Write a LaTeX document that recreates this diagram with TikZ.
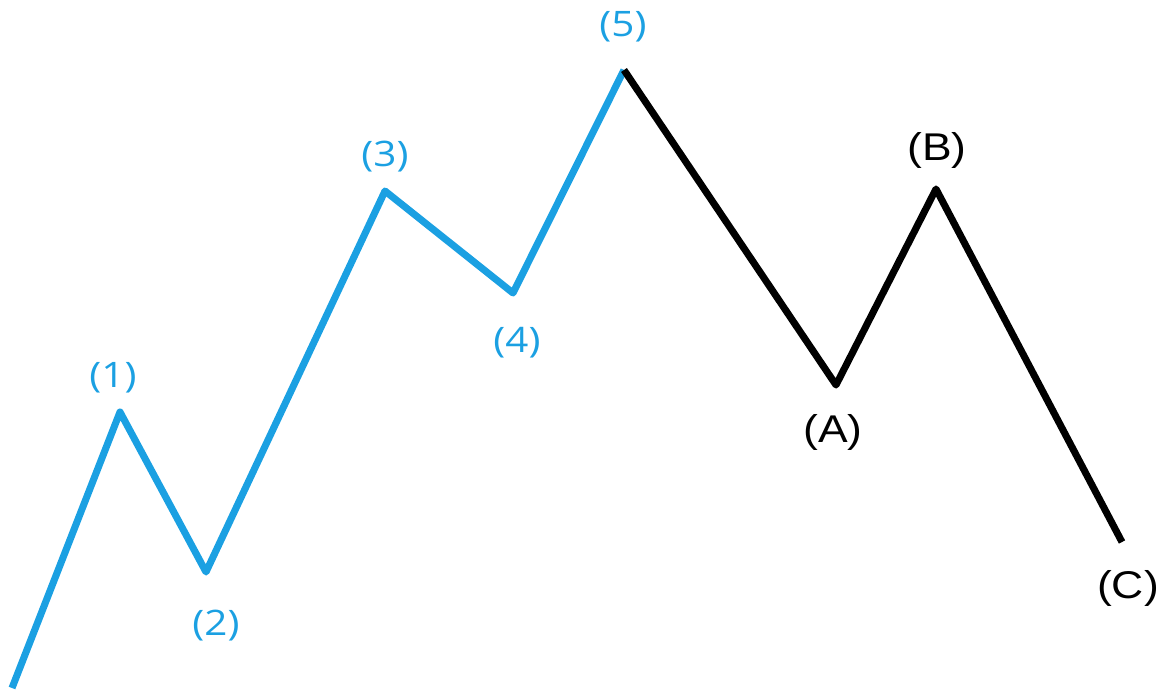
\documentclass[tikz,border=0pt]{standalone}
\usepackage{fontspec}
\setmainfont{Liberation Sans}
\newfontfamily\wavefont{Open Sans}
\usepackage{xcolor}
\usetikzlibrary{positioning}
\definecolor{waveblue}{RGB}{27,160,226}
\newcommand{\wlab}[1]{\scalebox{1.15}[1]{#1}}

\begin{document}
\begin{tikzpicture}[x=0.02cm, y=-0.02cm,
    impulse/.style={waveblue, line width=4pt, line join=round},
    correct/.style={black, line width=4pt, line join=round},
    ilabel/.style={waveblue, font=\wavefont\fontsize{20}{24}\selectfont, inner sep=0pt},
    clabel/.style={black, font=\fontsize{22}{26}\selectfont, inner sep=0pt}]
    \useasboundingbox (0,0) rectangle (1166,693);
    % wave points
    \coordinate (w0) at (12,688);
    \coordinate (w1) at (120,412);
    \coordinate (w2) at (206,572);
    \coordinate (w3) at (385,191);
    \coordinate (w4) at (513,293);
    \coordinate (w5) at (624,70);
    \coordinate (wA) at (836,385);
    \coordinate (wB) at (936,189);
    \coordinate (wC) at (1122,542);
    \draw[impulse] (w0) -- (w1) -- (w2) -- (w3) -- (w4) -- (w5);
    \draw[correct] (w5) -- (wA) -- (wB) -- (wC);
    % labels
    \node[ilabel] (l1) at (113,378) {\wlab{(1)}};
    \node[ilabel] (l2) at (216,626) {\wlab{(2)}};
    \node[ilabel] (l3) at (385,157) {\wlab{(3)}};
    \node[ilabel] (l4) at (517,343) {\wlab{(4)}};
    \node[ilabel] (l5) at (623,27) {\wlab{(5)}};
    \node[clabel] (lA) at (833,432) {\wlab{(A)}};
    \node[clabel] (lB) at (937,150) {\wlab{(B)}};
    \node[clabel] (lC) at (1128,588) {\wlab{(C)}};
\end{tikzpicture}
\end{document}
